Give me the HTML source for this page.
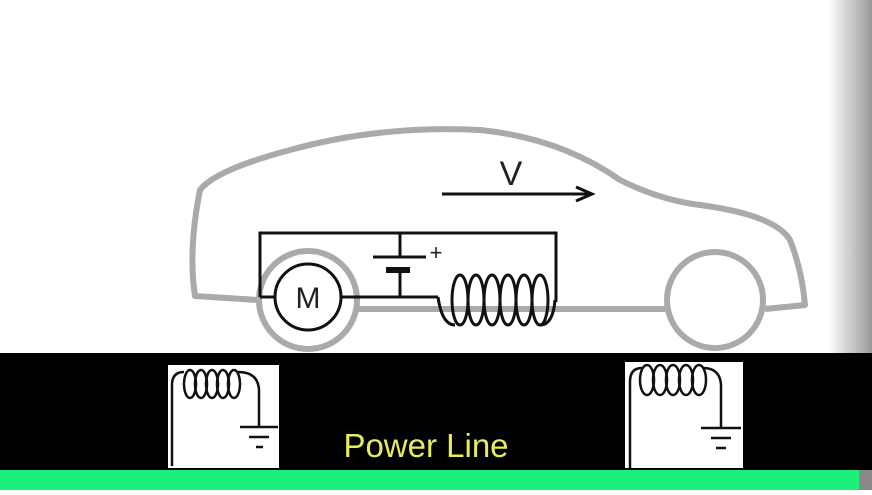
<!DOCTYPE html>
<html><head><style>
body{margin:0;width:872px;height:490px;overflow:hidden;background:#fff;font-family:"Liberation Sans",sans-serif}
</style></head><body>
<svg width="872" height="490" viewBox="0 0 872 490" xmlns="http://www.w3.org/2000/svg">
<defs><linearGradient id="g" x1="0" x2="1"><stop offset="0" stop-color="#fff"/><stop offset="1" stop-color="#999"/></linearGradient></defs>
<rect width="872" height="490" fill="#fff"/>
<rect x="828" y="0" width="44" height="490" fill="url(#g)"/>
<!-- car body -->
<g fill="none" stroke="#aaa" stroke-width="6" stroke-linejoin="round">
<path d="M258,300 L195,296 Q188,250 200,190 Q215,170 290,150 Q380,125 480,130 Q560,138 620,180 Q660,200 700,205 Q775,215 790,240 Q802,270 805,305 L765,309"/>
<path d="M358,309 L665,309"/>
<circle cx="308" cy="300" r="49"/>
<circle cx="715" cy="300" r="48"/>
</g>
<!-- circuit -->
<g fill="none" stroke="#111" stroke-width="3">
<path d="M260,297 L260,233 L556,233 L556,302"/>
<path d="M260,297 L275,297"/>
<circle cx="308" cy="297" r="33" fill="none"/>
<path d="M341,297 L438,297"/>
<path d="M400,233 L400,256 M373,257 L426,257 M400,272 L400,297"/>
<path d="M386,270 L410,270" stroke-width="6"/>
<path d="M438,297 Q442,325 455,325 M555,300 Q553,325 540,325"/>
<g stroke-width="3">
<ellipse cx="460" cy="300" rx="8" ry="25"/><ellipse cx="476" cy="300" rx="8" ry="25"/><ellipse cx="492" cy="300" rx="8" ry="25"/><ellipse cx="508" cy="300" rx="8" ry="25"/><ellipse cx="524" cy="300" rx="8" ry="25"/><ellipse cx="540" cy="300" rx="8" ry="25"/>
</g>
<path d="M442,194 L590,194 M576,187 L592,194 L576,201"/>
</g>
<text x="308" y="308" font-size="30" text-anchor="middle" fill="#222">M</text>
<text x="436" y="260" font-size="22" text-anchor="middle" fill="#222">+</text>
<text x="511" y="185" font-size="34" text-anchor="middle" fill="#222">V</text>
<!-- ground band -->
<rect x="0" y="353" width="872" height="117" fill="#000"/>
<rect x="0" y="470" width="859" height="20" fill="#1df07a"/>
<rect x="859" y="470" width="13" height="20" fill="#888"/>
<g>
<rect x="168" y="365" width="111" height="103" fill="#fff"/>
<g fill="none" stroke="#111" stroke-width="2.5">
<path d="M172,466 L172,385 Q172,372 184,372"/>
<ellipse cx="190" cy="384" rx="6" ry="14"/><ellipse cx="201" cy="384" rx="6" ry="14"/><ellipse cx="212" cy="384" rx="6" ry="14"/><ellipse cx="223" cy="384" rx="6" ry="14"/><ellipse cx="234" cy="384" rx="6" ry="14"/>
<path d="M238,372 Q258,372 259,390 L259,427 M240,427 L278,427 M249,437 L269,437 M256,447 L263,447"/>
</g>
<rect x="625" y="362" width="118" height="106" fill="#fff"/>
<g fill="none" stroke="#111" stroke-width="2.5">
<path d="M630,468 L630,382 Q630,368 642,368"/>
<ellipse cx="647" cy="380" rx="7" ry="15"/><ellipse cx="660" cy="380" rx="7" ry="15"/><ellipse cx="673" cy="380" rx="7" ry="15"/><ellipse cx="686" cy="380" rx="7" ry="15"/><ellipse cx="699" cy="380" rx="7" ry="15"/>
<path d="M703,368 Q720,368 721,385 L721,428 M701,428 L741,428 M711,438 L731,438 M716,448 L726,448"/>
</g>
</g>
<text x="426" y="457" font-size="33" text-anchor="middle" fill="#e8ec5a">Power Line</text>
</svg>
</body></html>
